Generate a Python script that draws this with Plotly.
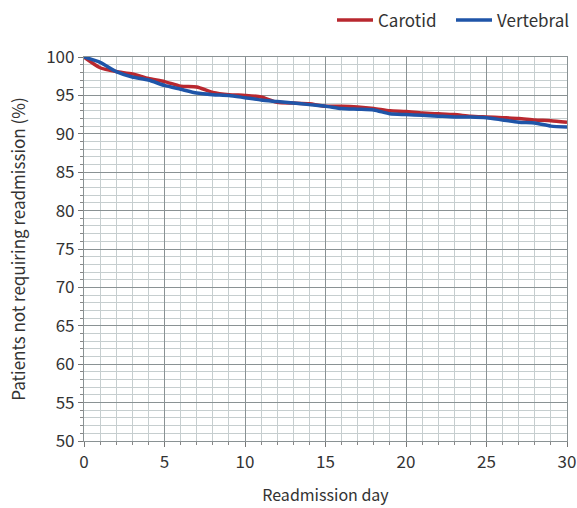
import plotly.graph_objects as go

days = list(range(0, 31))
carotid = [100, 98.6, 98.1, 97.8, 97.2, 96.8, 96.2, 96.1, 95.4, 95.1,
           95.0, 94.8, 94.1, 94.0, 93.9, 93.6, 93.6, 93.5, 93.3, 93.0,
           92.9, 92.7, 92.6, 92.5, 92.3, 92.2, 92.1, 92.0, 91.8, 91.7, 91.5]
vertebral = [100, 99.3, 98.1, 97.4, 97.0, 96.3, 95.8, 95.3, 95.1, 95.0,
             94.7, 94.4, 94.2, 94.0, 93.8, 93.6, 93.3, 93.2, 93.1, 92.6,
             92.5, 92.4, 92.3, 92.2, 92.2, 92.1, 91.8, 91.5, 91.4, 91.0, 90.9]
x_ticks = [0, 5, 10, 15, 20, 25, 30]
y_ticks = [50, 55, 60, 65, 70, 75, 80, 85, 90, 95, 100]

fig = go.Figure()
fig.add_trace(go.Scatter(x=days, y=carotid, mode="lines", name="Carotid",
                         line=dict(color="#b8282f", width=3.5, shape="spline", smoothing=0.6)))
fig.add_trace(go.Scatter(x=days, y=vertebral, mode="lines", name="Vertebral",
                         line=dict(color="#1f55a8", width=3.5, shape="spline", smoothing=0.6)))

font = "Noto Sans CJK KR, Noto Sans, sans-serif"
fig.update_layout(
    width=577, height=508,
    margin=dict(l=84, r=10, t=57, b=67, autoexpand=False),
    paper_bgcolor="white", plot_bgcolor="white",
    font=dict(family=font, color="#333333", size=16),
    legend=dict(orientation="h", x=332 / 577, xanchor="left", y=0.995, yanchor="top",
                yref="container", xref="container", font=dict(size=17), traceorder="normal",
                itemwidth=36, entrywidth=68, entrywidthmode="pixels",
                bgcolor="rgba(0,0,0,0)"),
    showlegend=True,
)

fig.update_xaxes(
    range=[0, 30], tickvals=x_ticks, ticktext=[str(v) for v in x_ticks],
    tickfont=dict(size=17, color="#333333"),
    showgrid=True, gridcolor="#8a9294", gridwidth=1.2,
    minor=dict(dtick=1, showgrid=True, gridcolor="#c6cecf", gridwidth=1,
               ticks="outside", ticklen=3, tickcolor="#888888"),
    ticks="outside", ticklen=5, tickcolor="#777777",
    showline=True, linecolor="#8a9294", linewidth=1.2, mirror=True,
    zeroline=False, automargin=False,
    title=dict(text="Readmission day", font=dict(size=16, color="#333333"), standoff=18),
)
fig.update_yaxes(
    range=[50, 100], tickvals=y_ticks, ticktext=[str(v) for v in y_ticks],
    tickfont=dict(size=17, color="#333333"),
    showgrid=True, gridcolor="#8a9294", gridwidth=1.2,
    minor=dict(dtick=1, showgrid=True, gridcolor="#c6cecf", gridwidth=1,
               ticks="outside", ticklen=3, tickcolor="#888888"),
    ticks="outside", ticklen=5, tickcolor="#777777",
    showline=True, linecolor="#8a9294", linewidth=1.2, mirror=True,
    zeroline=False, automargin=False,
    title=dict(text="Patients not requiring readmission (%)", font=dict(size=17, color="#333333"), standoff=16),
)

fig.write_html("out.html", config={"displayModeBar": False},
               post_script="document.body.style.margin='0';")
